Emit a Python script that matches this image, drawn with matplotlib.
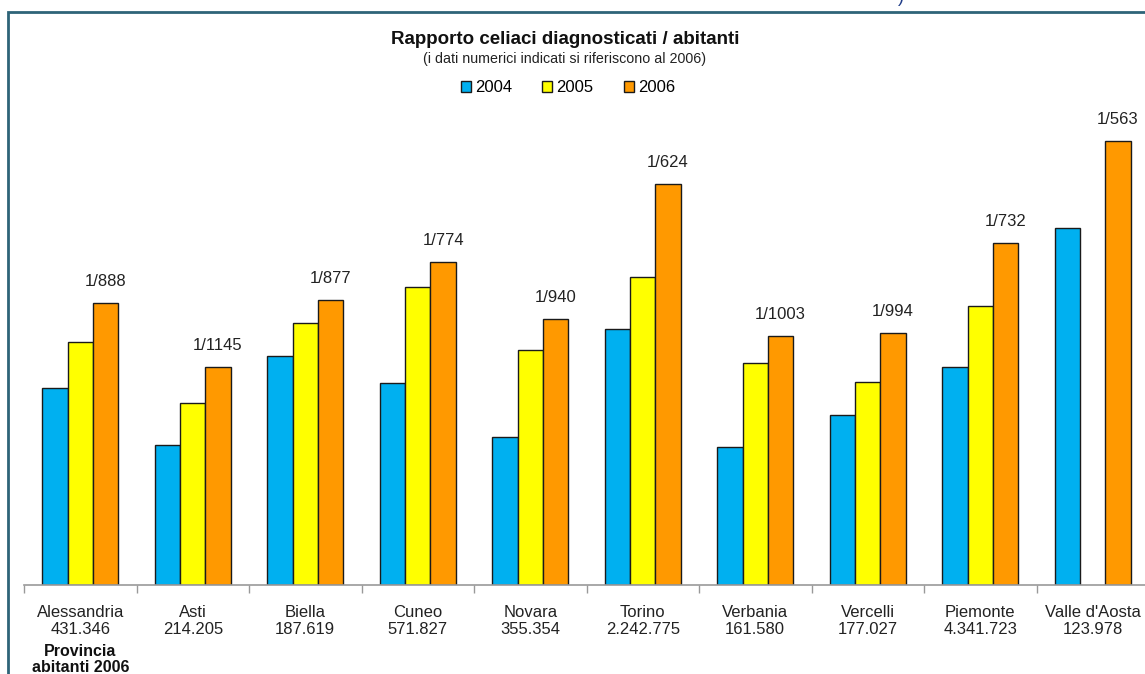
import matplotlib.pyplot as plt
import matplotlib.transforms as mtransforms
import numpy as np
from matplotlib.patches import Rectangle

plt.rcParams['font.family'] = ['Liberation Sans', 'DejaVu Sans']

province = ['Alessandria', 'Asti', 'Biella', 'Cuneo', 'Novara', 'Torino',
            'Verbania', 'Vercelli', 'Piemonte', "Valle d'Aosta"]
abitanti_2006 = ['431.346', '214.205', '187.619', '571.827', '355.354',
                 '2.242.775', '161.580', '177.027', '4.341.723', '123.978']
# one celiac patient every N inhabitants
n_2004 = [1267, 1789, 1094, 1239, 1692, 977, 1818, 1473, 1145, 700]
n_2005 = [1029, 1377, 956, 838, 1064, 812, 1126, 1232, 895, np.nan]
n_2006 = [888, 1145, 877, 774, 940, 624, 1003, 994, 732, 563]
anni = ['2004', '2005', '2006']
colori = ['#00B0F0', '#FFFF00', '#FF9900']

W, H = 1145, 674
fig = plt.figure(figsize=(W / 100, H / 100), dpi=100)
ax = fig.add_axes([24 / W, (H - 585) / H, 1125 / W, 585 / H])

x = np.arange(len(province))
w = 0.225
bars = []
for k, serie in enumerate([n_2004, n_2005, n_2006]):
    vals = 1.0 / np.array(serie, dtype=float)
    b = ax.bar(x + (k - 1) * w, vals, w, color=colori[k], edgecolor='#1a1a1a',
               linewidth=1.0, label=anni[k])
    bars.append(b)

for xi, n in zip(x, n_2006):
    ax.annotate(f'1/{n}', xy=(xi + w, 1.0 / n), xytext=(0, 21.5),
                textcoords='offset pixels', ha='center', va='center',
                fontsize=12, color='#222222')

ax.set_xlim(-0.5, len(province) - 0.5)
ax.set_ylim(0, 585 / 2.5e5)
ax.set_xticks(x, [f'{p}\n{a}' for p, a in zip(province, abitanti_2006)])
ax.tick_params(axis='x', length=0, pad=14.5, labelsize=12, labelcolor='#222222')
for lab in ax.get_xticklabels():
    lab.set_linespacing(1.15)
ax.set_xticks(np.arange(-0.5, len(province)), minor=True)
ax.tick_params(axis='x', which='minor', length=6, width=1, color='#999999',
               direction='out')
ax.set_yticks([])
for s in ['top', 'right', 'left']:
    ax.spines[s].set_visible(False)
ax.spines['bottom'].set_color('#999999')
ax.spines['bottom'].set_linewidth(1.2)
ax.patch.set_alpha(0)

trans = mtransforms.blended_transform_factory(ax.transData, fig.transFigure)
ax.text(0, 1 - 659.5 / H, 'Provincia\nabitanti 2006', transform=trans,
        ha='center', va='center', fontsize=11.5, fontweight='bold', color='#111111',
        linespacing=1.12)

fig.text(565 / W, 1 - 39 / H, 'Rapporto celiaci diagnosticati / abitanti',
         ha='center', va='center', fontsize=13.5, fontweight='bold', color='#111111')
fig.text(565 / W, 1 - 59 / H, '(i dati numerici indicati si riferiscono al 2006)',
         ha='center', va='center', fontsize=10.3, color='#222222')
fig.legend(handles=bars, labels=anni, loc='center', bbox_to_anchor=(568 / W, 1 - 88 / H),
           ncol=3, frameon=False, fontsize=12, handlelength=0.6, handleheight=0.6,
           handletextpad=0.25, columnspacing=1.8, borderpad=0)

# outer frame
fig.add_artist(Rectangle((8 / W, -0.1), 2, (H - 12) / H + 0.1, transform=fig.transFigure,
                         fill=False, edgecolor='#2E6478', linewidth=2))
fig.text(901 / W, 1 + 2 / H, ')', ha='center', va='center', fontsize=13,
         color='#1F3C88')

fig.savefig('out.png', dpi=100)
